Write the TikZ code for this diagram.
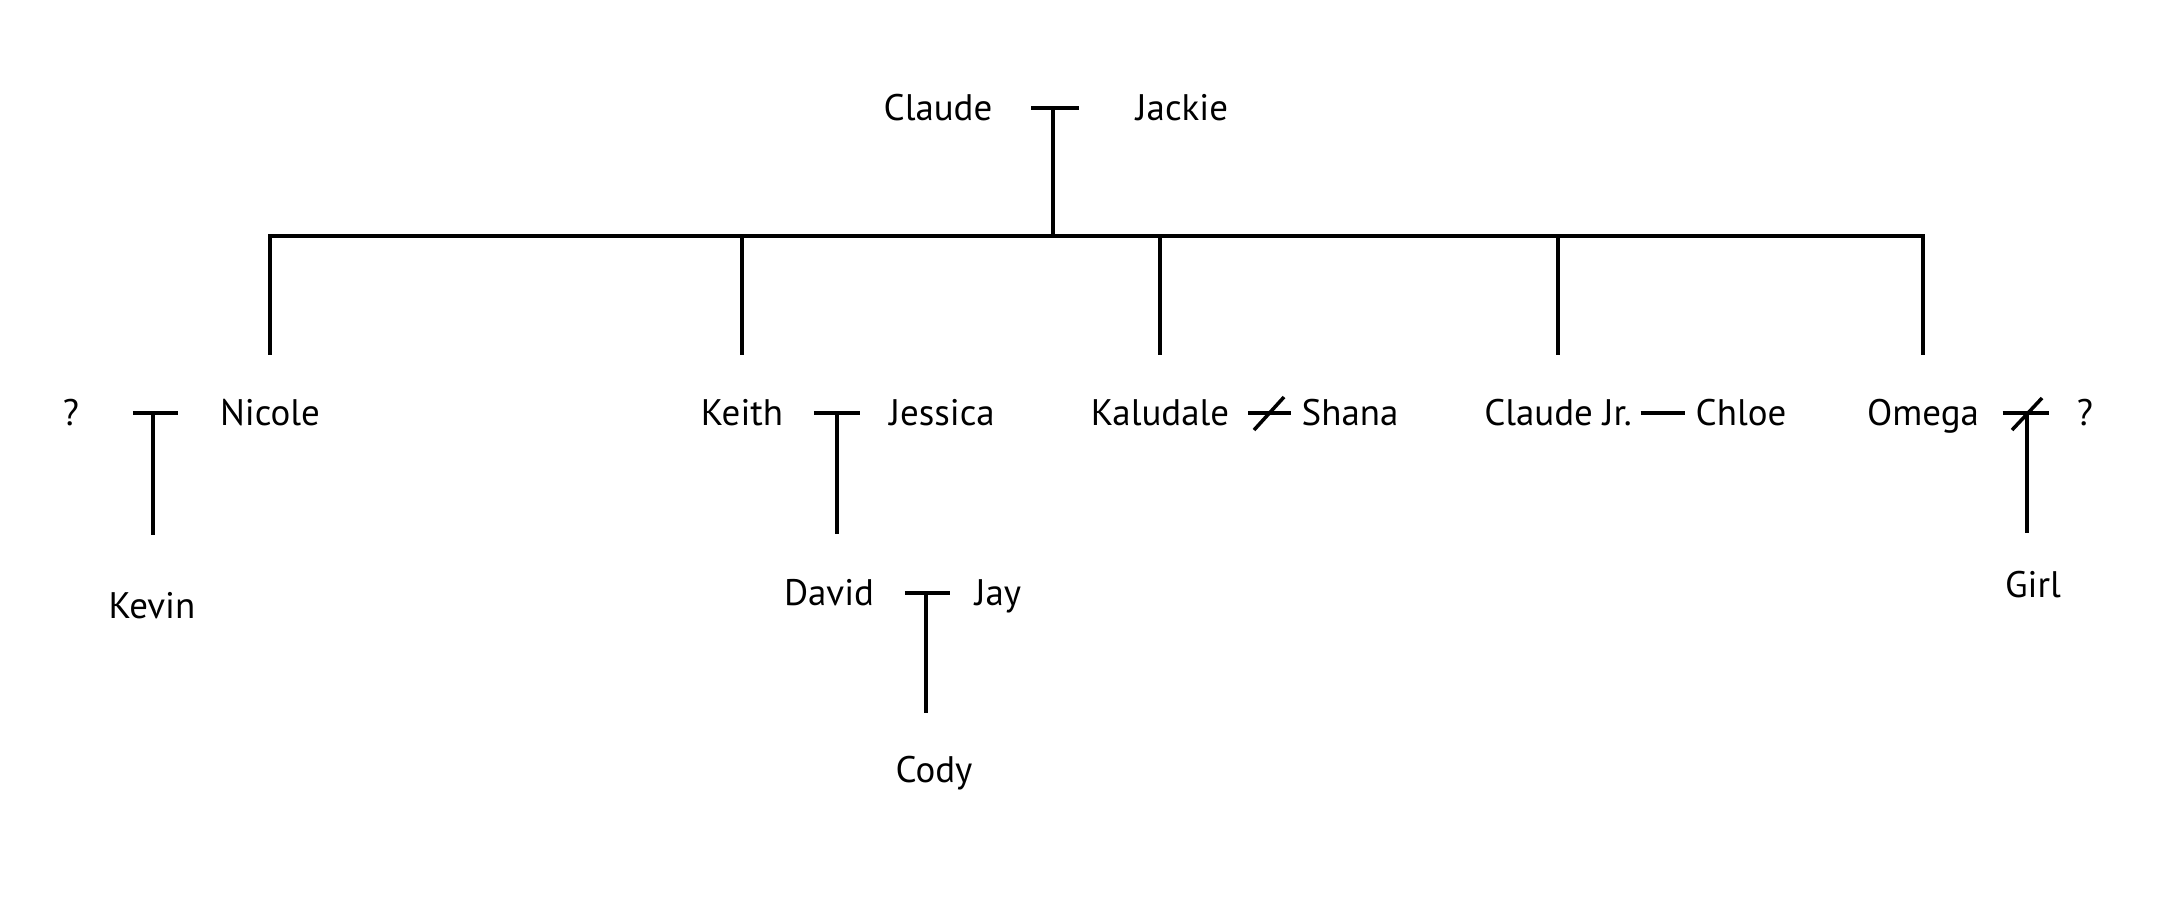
\documentclass[tikz,border=0pt]{standalone}
\usepackage{fontspec}
\setmainfont{PT Sans}
\usetikzlibrary{calc}

\begin{document}
\begin{tikzpicture}[x=0.01cm,y=-0.01cm,line width=1pt,
                    name node/.style={inner sep=0pt,text height=0.7em,text depth=0pt,
                                      font=\fontsize{10.5}{12}\selectfont}]
  \useasboundingbox (0,0) rectangle (2180,902);

  %Parents%
  \node[name node] (claude) at (938,108) {Claude};
  \node[name node] (jackie) at (1182,108) {Jackie};
  \coordinate (claude-jackie) at (1053,108);
  \coordinate (bar) at (1053,236);

  %Children%
  \node[name node] (unk1) at (71,413) {?};
  \node[name node] (nicole) at (270,413) {Nicole};
  \node[name node] (keith) at (742,413) {Keith};
  \node[name node] (jessica) at (942,413) {Jessica};
  \node[name node] (kaludale) at (1160,413) {Kaludale};
  \node[name node] (shana) at (1350,413) {Shana};
  \node[name node] (claudejr) at (1558,413) {Claude Jr.};
  \node[name node] (chloe) at (1741,413) {Chloe};
  \node[name node] (omega) at (1923,413) {Omega};
  \node[name node] (unk2) at (2085,413) {?};
  \coordinate (unk1-nicole) at (153,413);
  \coordinate (keith-jessica) at (837,413);
  \coordinate (kaludale-shana) at (1269,413);
  \coordinate (omega-unk2) at (2027,413);

  %Grandchildren%
  \node[name node] (kevin) at (152,606) {Kevin};
  \node[name node] (david) at (829,593) {David};
  \node[name node] (jay) at (998,593) {Jay};
  \node[name node] (girl) at (2033,585) {Girl};
  \coordinate (david-jay) at (926,593);
  \node[name node] (cody) at (934,770) {Cody};

  \path
    (claude) edge[shorten <=0.37cm,shorten >=0.55cm] (jackie)
    (unk1) edge[shorten <=0.52cm,shorten >=0.40cm] (nicole)
    (keith) edge[shorten <=0.29cm,shorten >=0.28cm] (jessica)
    (david) edge[shorten <=0.29cm,shorten >=0.23cm] (jay)
    (kaludale) edge[shorten <=0.17cm,shorten >=0.09cm] (shana)
    (claudejr) edge[shorten <=0.07cm,shorten >=0.09cm] (chloe)
    (omega) edge[shorten <=0.22cm,shorten >=0.26cm] (unk2);

  %Divorced%
  \draw ($(kaludale-shana)+(-15,17)$) -- ($(kaludale-shana)+(15,-16)$);
  \draw ($(omega-unk2)+(-15,17)$) -- ($(omega-unk2)+(15,-15)$);

  %Descent%
  \draw (claude-jackie) -- (bar);
  \draw[shorten <=0.44cm,shorten >=0.44cm]
    (nicole.north) -- (nicole.north |- bar) -- (omega.north |- bar) -- (omega.north);
  \foreach \k in {keith,kaludale,claudejr}
    \draw[shorten <=0.44cm] (\k.north) -- (\k.north |- bar);
  \draw[shorten >=0.57cm] (unk1-nicole) -- (unk1-nicole |- kevin.north);
  \draw[shorten >=0.45cm] (keith-jessica) -- (keith-jessica |- david.north);
  \draw[shorten >=0.43cm] (david-jay) -- (david-jay |- cody.north);
  \draw[shorten >=0.38cm] (omega-unk2) -- (omega-unk2 |- girl.north);
\end{tikzpicture}
\end{document}
